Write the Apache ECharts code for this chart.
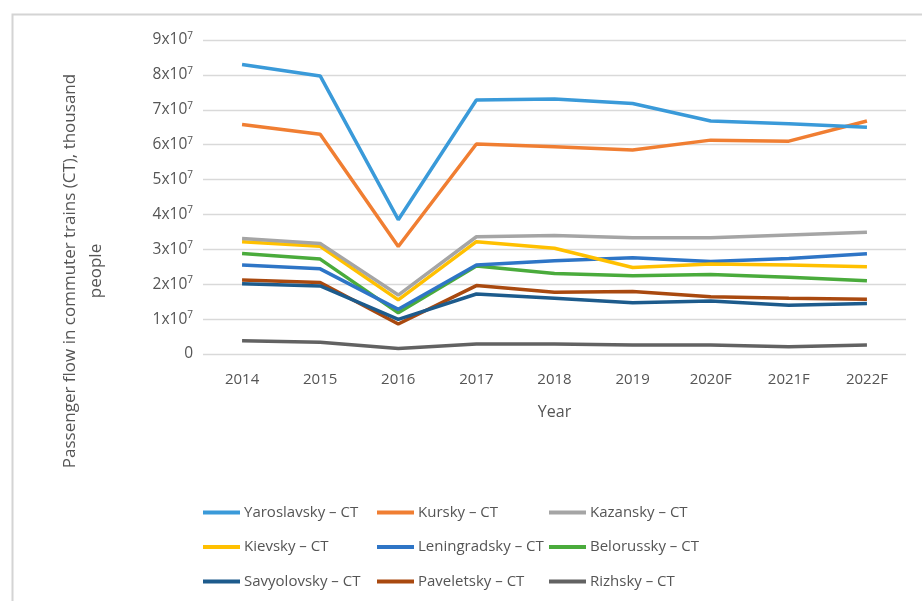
<!DOCTYPE html>
<html>
<head>
<meta charset="utf-8">
<script src="https://cdn.jsdelivr.net/npm/echarts@6/dist/echarts.min.js"></script>
<style>html,body{margin:0;padding:0;background:#fff}#c{width:922px;height:601px}</style>
</head>
<body>
<div id="c"></div>
<script>
var years = ['2014','2015','2016','2017','2018','2019','2020F','2021F','2022F'];
var yTickExponents = ['0','1x10','2x10','3x10','4x10','5x10','6x10','7x10','8x10','9x10'];
var yaroslavsky = [83.0e6, 79.7e6, 38.5e6, 72.8e6, 73.1e6, 71.8e6, 66.8e6, 66.0e6, 65.0e6];
var kursky      = [65.8e6, 63.0e6, 30.8e6, 60.2e6, 59.4e6, 58.5e6, 61.3e6, 61.0e6, 66.8e6];
var kazansky    = [33.1e6, 31.7e6, 16.9e6, 33.6e6, 34.0e6, 33.3e6, 33.3e6, 34.1e6, 34.9e6];
var kievsky     = [32.2e6, 30.9e6, 15.5e6, 32.2e6, 30.3e6, 24.8e6, 25.8e6, 25.5e6, 25.0e6];
var leningradsky= [25.5e6, 24.4e6, 12.8e6, 25.5e6, 26.7e6, 27.6e6, 26.5e6, 27.4e6, 28.7e6];
var belorussky  = [28.8e6, 27.2e6, 11.8e6, 25.2e6, 23.1e6, 22.4e6, 22.8e6, 22.0e6, 21.0e6];
var savyolovsky = [20.1e6, 19.5e6, 9.9e6, 17.2e6, 16.0e6, 14.7e6, 15.2e6, 14.0e6, 14.5e6];
var paveletsky  = [21.2e6, 20.5e6, 8.6e6, 19.6e6, 17.7e6, 17.9e6, 16.4e6, 16.0e6, 15.7e6];
var rizhsky     = [3.8e6, 3.4e6, 1.6e6, 2.9e6, 2.9e6, 2.6e6, 2.6e6, 2.1e6, 2.6e6];

var names = ['Yaroslavsky – CT','Kursky – CT','Kazansky – CT','Kievsky – CT','Leningradsky – CT','Belorussky – CT','Savyolovsky – CT','Paveletsky – CT','Rizhsky – CT'];
var values = [yaroslavsky, kursky, kazansky, kievsky, leningradsky, belorussky, savyolovsky, paveletsky, rizhsky];
var colors = ['#3a9ad9','#f07e32','#a5a5a5','#ffc000','#2e75c6','#4aab3c','#1d5b8c','#a9490f','#626262'];

var font = '"Open Sans", "Noto Sans", sans-serif';
var txt = '#555555';

var series = names.map(function(n, i){
  return {
    name: n, type: 'line', data: values[i], symbol: 'none', smooth: false,
    lineStyle: {width: 3.5, color: colors[i]}, itemStyle: {color: colors[i]},
    z: 10 - i
  };
});

function legendCol(left, items){
  return {
    orient: 'vertical', left: left, top: 500, itemWidth: 37, itemHeight: 14, itemGap: 19.5,
    icon: 'path://M0,5 L37,5 L37,9 L0,9 Z',
    textStyle: {fontFamily: font, fontSize: 15, color: txt, padding: [0,0,0,-1]},
    data: items
  };
}

var chart = echarts.init(document.getElementById('c'), null, {renderer: 'canvas'});
chart.setOption({
  backgroundColor: '#fff',
  animation: false,
  grid: {left: 203, right: 16, top: 40, bottom: 247},
  legend: [
    legendCol(198, [names[0], names[3], names[6]]),
    legendCol(372, [names[1], names[4], names[7]]),
    legendCol(544, [names[2], names[5], names[8]])
  ],
  xAxis: {
    type: 'category', data: years, boundaryGap: true,
    axisLine: {show: false}, axisTick: {show: false},
    axisLabel: {fontFamily: font, fontSize: 15, color: txt, margin: 18},
    name: 'Year', nameLocation: 'middle', nameGap: 50,
    nameTextStyle: {fontFamily: font, fontSize: 16, color: txt}
  },
  yAxis: {
    type: 'value', min: 0, max: 90e6, interval: 10e6,
    axisLine: {show: false}, axisTick: {show: false},
    splitLine: {lineStyle: {color: '#d9d9d9', width: 1.3}},
    axisLabel: {
      margin: 10,
      formatter: function(v){
        var k = Math.round(v / 1e7);
        if (k === 0) return '{b|0}';
        return '{b|' + yTickExponents[k] + '}{s|7}';
      },
      rich: {
        b: {fontFamily: font, fontSize: 15.5, color: txt},
        s: {fontFamily: font, fontSize: 10, color: txt, verticalAlign: 'top', padding: [0,0,8,0]}
      }
    }
  },
  graphic: [
    {type: 'rect', left: 10, top: 12, silent: true, z: -10,
     shape: {x: 0, y: 0, width: 940, height: 620},
     style: {fill: 'none', stroke: '#d4d4d4', lineWidth: 2}},
    {type: 'text', x: 83, y: 271, rotation: Math.PI / 2, silent: true,
     style: {text: 'Passenger flow in commuter trains (CT), thousand\npeople', align: 'center', verticalAlign: 'middle',
             fontFamily: font, fontSize: 17, fill: txt, lineHeight: 26}}
  ],
  series: series
});
</script>
</body>
</html>
